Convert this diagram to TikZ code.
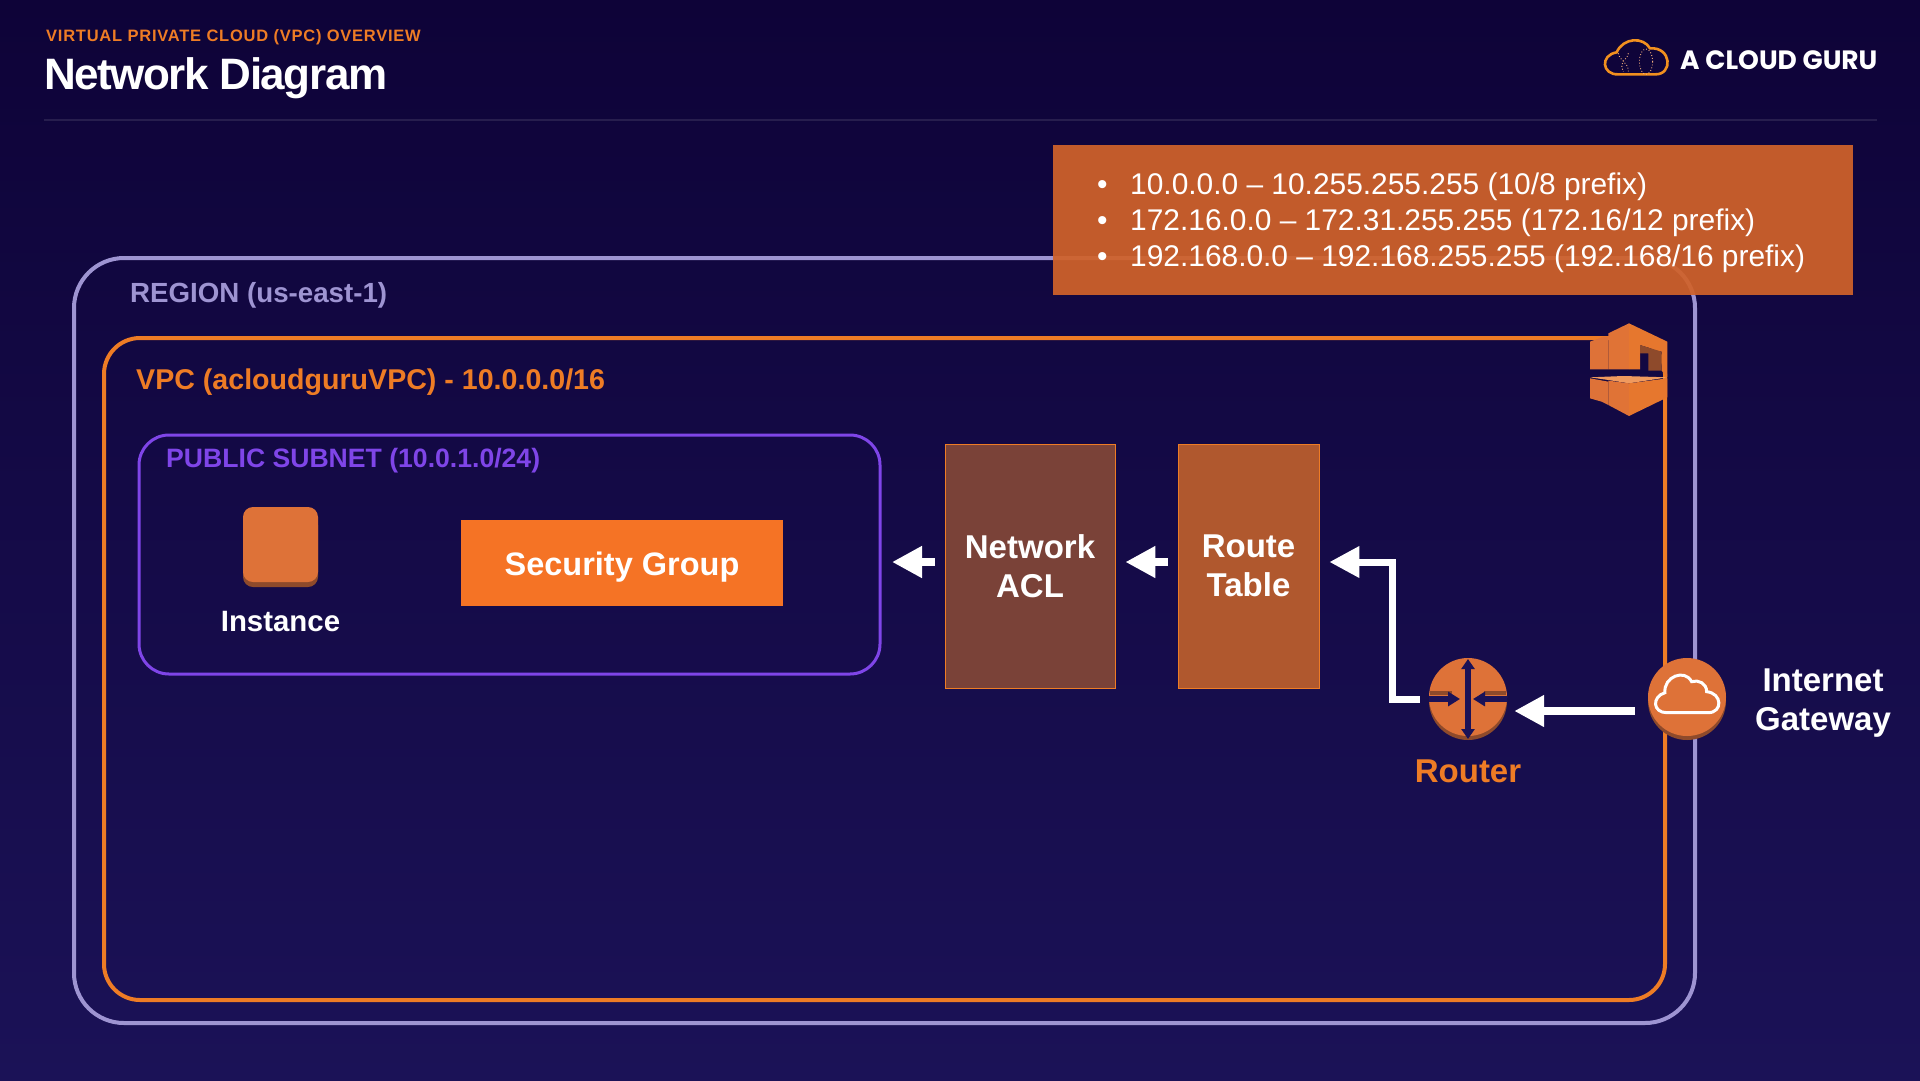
\documentclass[tikz,border=0pt]{standalone}
\usepackage{fontspec}
\setmainfont{Liberation Sans}
\newfontfamily\logofont{Poppins}
\usetikzlibrary{positioning,arrows.meta}
\definecolor{NightTop}{HTML}{0E0338}
\definecolor{NightLow}{HTML}{1B1257}
\definecolor{RegionLine}{HTML}{9E94D2}
\definecolor{VpcOrange}{HTML}{EE7C25}
\definecolor{SubnetPurple}{HTML}{7F45E8}
\definecolor{IconOrange}{HTML}{DE7238}
\definecolor{IconShade}{HTML}{8E4A2B}
\definecolor{IconBright}{HTML}{F09A5E}
\definecolor{CalloutFill}{HTML}{D0622A}
\definecolor{AclFill}{HTML}{7A4238}
\definecolor{RouteFill}{HTML}{B0582E}
\definecolor{GroupFill}{HTML}{F57325}
\begin{document}
\begin{tikzpicture}[
x=1pt,y=-1pt,
lbl/.style={inner sep=0pt,anchor=west,font=\bfseries\fontsize{27}{30}\selectfont},
white label/.style={inner sep=0pt,align=center,text=white,font=\bfseries\fontsize{33}{39}\selectfont},
zone/.style={rectangle,inner sep=0pt,outer sep=0pt,anchor=north west},
filter/.style={rectangle,draw=VpcOrange,line width=0.8pt,inner sep=0pt,minimum height=244pt},
flow/.style={-{Triangle[length=30pt,width=30pt]},draw=white,line width=8pt}
]
\fill[top color=NightTop,bottom color=NightLow] (0,0) rectangle (1920,1080);
\useasboundingbox (0,0) rectangle (1920,1080);
% header
\node[lbl,text=VpcOrange,font=\addfontfeature{LetterSpace=4.6}\bfseries\fontsize{16.5}{20}\selectfont] (kicker) at (46,37) {VIRTUAL PRIVATE CLOUD (VPC) OVERVIEW};
\node[lbl,text=white,font=\addfontfeature{LetterSpace=-3.3}\bfseries\fontsize{44}{48}\selectfont] (title) at (44,78) {Network Diagram};
\coordinate (ruleL) at (44,120);
\coordinate (ruleR) at (1877,120);
\draw[draw=white,opacity=0.10,line width=2pt] (ruleL)--(ruleR);
\node[lbl,text=white,font=\logofont\bfseries\fontsize{26.5}{30}\selectfont] (logo) at (1680,60) {A CLOUD GURU};
\begin{scope}[shift={(1560,20)},x=0.3333pt,y=-0.3333pt]
\draw[draw=VpcOrange!85!yellow,line width=2.6pt] (175,163) .. controls (125,165) and (120,105) .. (170,97) .. controls (190,52) and (250,50) .. (270,85) .. controls (335,80) and (340,165) .. (285,163) -- cycle;
\draw[draw=IconBright!80!white,line width=0.9pt,dotted] (258,125) ellipse (20 and 38);
\draw[draw=IconBright!80!white,line width=0.9pt,dotted] (175,100) .. controls (180,125) and (205,125) .. (205,155);
\draw[draw=IconBright!80!white,line width=0.9pt,dotted] (205,100) .. controls (200,125) and (175,120) .. (190,155);
\end{scope}
% zones
\node[zone,draw=RegionLine,line width=4pt,rounded corners=50pt,minimum width=1621pt,minimum height=765pt] (region) at (74,258) {};
\node[zone,draw=VpcOrange,line width=4pt,rounded corners=36pt,minimum width=1561pt,minimum height=662pt] (vpc) at (104,338) {};
\node[zone,draw=SubnetPurple,line width=3pt,rounded corners=30pt,minimum width=741pt,minimum height=239pt] (subnet) at (139,435) {};
\node[lbl,text=RegionLine,font=\bfseries\fontsize{27.7}{30}\selectfont] (regionlbl) at (130,295) {REGION (us-east-1)};
\node[lbl,text=VpcOrange,font=\bfseries\fontsize{28.6}{30}\selectfont] (vpclbl) at (136,382) {VPC (acloudguruVPC) - 10.0.0.0/16};
\node[lbl,text=SubnetPurple,font=\bfseries\fontsize{26.6}{30}\selectfont] (subnetlbl) at (166,461) {PUBLIC SUBNET (10.0.1.0/24)};
% callout
\node[zone,fill=CalloutFill,fill opacity=0.93,minimum width=800pt,minimum height=150pt] (cidr) at (1053,145) {};
\node[inner sep=0pt,anchor=west,text=white,align=left,font=\fontsize{29.9}{36}\selectfont] (cidrtext) at ([xshift=49pt,yshift=-3pt]cidr.west) {\makebox[28pt][l]{\hspace{-5pt}\textbullet}10.0.0.0 -- 10.255.255.255 (10/8 prefix)\\
\makebox[28pt][l]{\hspace{-5pt}\textbullet}172.16.0.0 -- 172.31.255.255 (172.16/12 prefix)\\
\makebox[28pt][l]{\hspace{-5pt}\textbullet}192.168.0.0 -- 192.168.255.255 (192.168/16 prefix)};
% vpc icon
\begin{scope}[shift={(1560,300)},x=0.3333pt,y=-0.3333pt]
\fill[IconOrange] (90,125) -- (130,110) -- (145,110) -- (145,208) -- (90,208) -- cycle;
\fill[IconOrange!90!VpcOrange] (145,100) -- (207,70) -- (207,208) -- (145,208) -- cycle;
\fill[IconOrange!50!VpcOrange] (207,70) -- (322,125) -- (322,232) -- (305,212) -- (305,155) -- (240,135) -- (240,208) -- (207,208) -- cycle;
\fill[IconShade] (240,135) -- (305,155) -- (305,212) -- (265,212) -- (265,160) -- (240,160) -- cycle;
\fill[IconBright] (90,232) -- (190,228) -- (322,232) -- (207,250) -- (145,240) -- cycle;
\fill[IconOrange] (90,235) -- (145,245) -- (145,315) -- (125,305) -- (90,295) -- cycle;
\fill[IconOrange!90!VpcOrange] (145,242) -- (207,250) -- (207,348) -- (145,315) -- cycle;
\fill[IconOrange!50!VpcOrange] (207,250) -- (322,235) -- (322,292) -- (207,348) -- cycle;
\end{scope}
% instance
\fill[IconShade,rounded corners=10pt] (243,515) rectangle (318,587);
\node[rectangle,fill=IconOrange,rounded corners=10pt,minimum width=75pt,minimum height=75pt,inner sep=0pt] (instance) at (280.5,544.5) {};
\node[white label,font=\bfseries\fontsize{29.4}{32}\selectfont,below=29pt of instance] (instancelbl) {Instance};
\node[rectangle,fill=GroupFill,minimum width=322pt,minimum height=86pt,white label,font=\bfseries\fontsize{32.5}{39}\selectfont,text depth=0pt,text height=24pt] (group) at (622,563) {Security Group};
% filters
\node[filter,fill=AclFill,minimum width=170pt,white label] (nacl) at (1030,566) {Network\\ACL};
\node[filter,fill=RouteFill,minimum width=141pt,white label] (route) at (1248.5,566) {Route\\Table};
% router
\fill[IconShade] (1468,701) circle (39pt);
\node[circle,fill=IconOrange,minimum size=78pt,inner sep=0pt] (router) at (1468,697) {};
\node[text=VpcOrange,inner sep=0pt,font=\bfseries\fontsize{33}{39}\selectfont,below=23pt of router] (routerlbl) {Router};
\draw[NightLow,line width=6pt,{Triangle[length=10pt,width=13pt]}-{Triangle[length=10pt,width=13pt]}] (1468,659) -- (1468,739);
\draw[IconShade,line width=4.5pt] (1430,693) -- (1452,693);
\draw[IconShade,line width=4.5pt] (1484,693) -- (1506,693);
\draw[NightLow,line width=5.5pt,-{Triangle[length=12pt,width=14pt]}] (1429,699) -- (1460,699);
\draw[NightLow,line width=5.5pt,-{Triangle[length=12pt,width=14pt]}] (1507,699) -- (1473,699);
% gateway
\fill[IconShade] (1687,701) circle (39pt);
\node[circle,fill=IconOrange,minimum size=78pt,inner sep=0pt] (igw) at (1687,697) {};
\node[white label] (igwlbl) at (1823,703) {Internet\\Gateway};
\begin{scope}[shift={(1380,640)},x=0.3333pt,y=-0.3333pt]
\draw[draw=white,line width=3pt] (860,218) .. controls (818,218) and (815,170) .. (855,158) .. controls (850,110) and (915,85) .. (935,125) .. controls (955,118) and (980,130) .. (980,155) .. controls (1028,160) and (1028,218) .. (985,218) -- cycle;
\end{scope}
% connectors
\coordinate (bend) at (1392,630);
\draw[flow,shorten <=13pt,shorten >=7pt] ([yshift=-14pt]igw.west) -- ([yshift=-14pt]router.east);
\draw[flow,line width=7pt,shorten <=9pt,shorten >=10pt] ([yshift=-2pt]router.west) -| (bend) |- ([yshift=4pt]route.east);
\draw[flow,shorten <=10pt,shorten >=12pt] ([yshift=4pt]nacl.west) -- ([yshift=-7.5pt]subnet.east);
\draw[flow,shorten <=10pt,shorten >=10pt] ([yshift=4pt]route.west) -- ([yshift=4pt]nacl.east);
\end{tikzpicture}
\end{document}
